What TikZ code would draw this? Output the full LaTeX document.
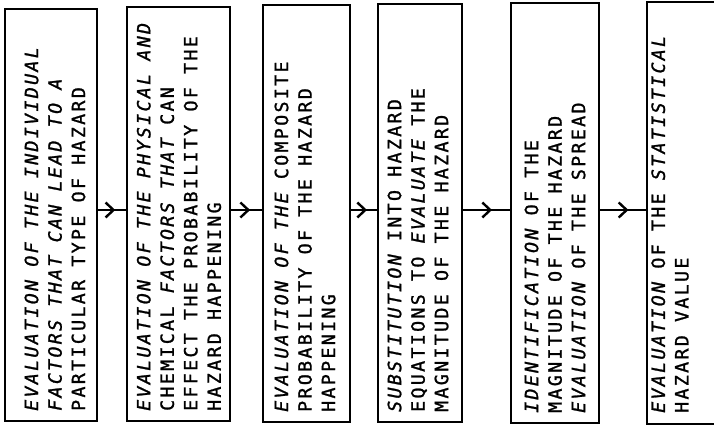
\documentclass[tikz,border=0pt]{standalone}
\usepackage{fontspec}
\newfontfamily\hw[LetterSpace=13,FakeBold=1.3]{DejaVu Sans Mono}
\usetikzlibrary{arrows.meta,decorations.markings}
\newcommand\obl{\itshape}
\tikzset{
  box/.style={draw=black, line width=2.6pt, fill=white, rectangle, inner sep=0pt},
  txt/.style={rotate=90, anchor=west, inner sep=0pt, align=left, font=\hw\fontsize{18.2pt}{23.5pt}\selectfont},
  conn/.style={line width=2.4pt, postaction={decorate},
    decoration={markings, mark=at position 0.62 with {\arrow[line width=2.4pt]{Straight Barb[length=8pt,width=15pt]}}}}
}
\begin{document}
\begin{tikzpicture}[x=1pt,y=-1pt]
\clip (0,0) rectangle (714,427);
\fill[white] (0,0) rectangle (714,427);
\node[box, minimum width=92pt, minimum height=412pt] (b1) at (51,215) {};
\node[box, minimum width=103pt, minimum height=414pt] (b2) at (178.5,214) {};
\node[box, minimum width=87pt, minimum height=417pt] (b3) at (306.5,213.5) {};
\node[box, minimum width=84pt, minimum height=418pt] (b4) at (420,213) {};
\node[box, minimum width=88pt, minimum height=420pt] (b5) at (555,213) {};
\node[box, minimum width=93pt, minimum height=422pt] (b6) at (693.5,213) {};
\node[txt] (t1) at (55,411) {{\obl EVALUATION OF THE INDIVIDUAL}\\{\obl FACTORS THAT CAN LEAD TO A}\\PARTICULAR TYPE OF HAZARD};
\node[txt] (t2) at (179,411) {{\obl EVALUATION OF THE PHYSICAL AND}\\CHEMICAL {\obl FACTORS THAT} CAN\\EFFECT THE PROBABILITY OF THE\\HAZARD HAPPENING};
\node[txt] (t3) at (305,412) {{\obl EVALUATION OF THE} COMPOSITE\\PROBABILITY OF THE HAZARD\\HAPPENING};
\node[txt] (t4) at (418,412) {{\obl SUBSTITUTION} INTO HAZARD\\EQUATIONS TO {\obl EVALUATE} THE\\MAGNITUDE OF THE HAZARD};
\node[txt] (t5) at (555,413) {{\obl IDENTIFICATION} OF THE\\MAGNITUDE OF THE HAZARD\\{\obl EVALUATION} OF THE SPREAD};
\node[txt] (t6) at (670,413) {{\obl EVALUATION} OF THE {\obl STATISTICAL}\\HAZARD VALUE};
\coordinate (ay) at (0,210);
\draw[conn] (b1.east |- ay) -- (b2.west |- ay);
\draw[conn] (b2.east |- ay) -- (b3.west |- ay);
\draw[conn] (b3.east |- ay) -- (b4.west |- ay);
\draw[conn] (b4.east |- ay) -- (b5.west |- ay);
\draw[conn] (b5.east |- ay) -- (b6.west |- ay);
\end{tikzpicture}
\end{document}
